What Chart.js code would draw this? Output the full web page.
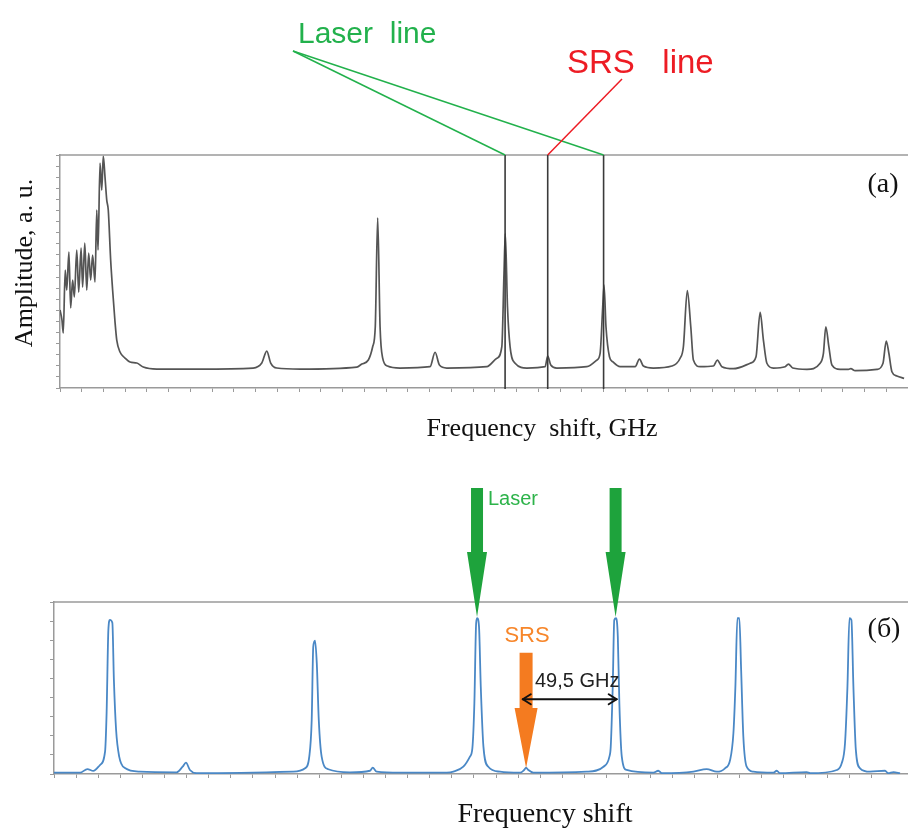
<!DOCTYPE html>
<html>
<head>
<meta charset="utf-8">
<script src="https://cdn.jsdelivr.net/npm/chart.js@4.4.0/dist/chart.umd.min.js"></script>
<style>
  html, body { margin: 0; padding: 0; background: #fff; }
  #wrap { position: relative; width: 908px; height: 830px; overflow: hidden; }
  canvas { position: absolute; left: 0; }
  #chartA { top: 0; }
  #chartB { top: 450px; }
</style>
</head>
<body>
<div id="wrap">
  <canvas id="chartA" width="908" height="450"></canvas>
  <canvas id="chartB" width="908" height="380"></canvas>
</div>
<script>
// ---- panel (a): measured spectrum, arbitrary units ----
const freqA = [0, 0.09, 0.15, 0.24, 0.31, 0.41, 0.49, 0.58, 0.66, 0.77, 0.86, 0.97, 1.04, 1.14, 1.23, 1.32, 1.41, 1.50, 1.61, 1.69,
  1.75, 1.84, 1.92, 1.99, 2.07, 2.15, 2.22, 2.33, 2.42, 2.53, 2.61, 2.76, 2.99, 3.22, 3.53, 3.83, 4.45, 6.44, 8.88, 9.28,
  9.51, 9.69, 9.97, 11.04,
  13.65, 13.88, 14.18, 14.38, 14.50, 14.61, 14.72, 14.84, 15.06, 15.64, 17.02, 17.25, 17.45, 17.79, 19.63, 20.09, 20.32, 20.42, 20.48, 20.58,
  20.70, 20.93, 21.47, 22.31, 22.43, 22.57, 22.85, 24.23, 24.69, 24.84, 24.96, 25.02, 25.11, 25.27,
  25.42, 25.76, 26.45, 26.65, 26.83, 27.29, 28.14, 28.52, 28.67, 28.85, 29.01, 29.13, 29.44, 30.05, 30.23, 30.44, 30.97, 31.74, 32.01, 32.20,
  32.35, 32.51, 32.81, 33.35, 33.50, 33.70, 34.35, 34.96, 35.11, 35.22, 35.36, 35.50, 35.88, 36.26, 36.37, 36.57, 37.57, 37.85, 38.00, 38.12,
  38.26, 38.49, 38.82];
const ampA = [7.03, 6.13, 4.95, 10.63, 8.83, 12.25, 7.21, 9.73, 8.20, 12.43, 8.65, 12.61, 9.10, 13.06, 8.83, 12.16, 9.73, 11.98, 9.55, 16.04,
  12.43, 20.27, 17.84, 20.9, 19.01, 16.94, 16.04, 11.53, 8.83, 5.95, 4.32, 3.24, 2.70, 2.34, 2.25, 1.89, 1.71, 1.71, 1.80, 2.25,
  3.33, 2.25, 1.80, 1.71,
  1.89, 2.16, 2.52, 3.72, 5.52, 15.34, 5.52, 2.70, 1.98, 1.80, 1.92, 3.22, 2.07, 1.80, 1.92, 2.68, 3.72, 10.36, 13.94, 7.32,
  3.72, 2.23, 1.80, 1.92, 2.88, 2.07, 1.80, 1.92, 2.52, 3.13, 7.32, 9.28, 5.52, 2.82,
  2.37, 1.92, 1.92, 2.61, 1.98, 1.80, 1.98, 2.68, 3.72, 8.77, 5.52, 2.52, 1.92, 1.98, 2.52, 1.92, 1.74, 2.23, 2.82, 6.82,
  4.32, 2.23, 1.80, 1.92, 2.16, 1.80, 1.68, 2.23, 3.13, 5.52, 3.72, 2.07, 1.68, 1.68, 1.74, 1.56, 1.68, 2.23, 4.23, 3.13,
  1.47, 1.08, 0.87];
const laserLinesA = [20.47, 25.0];   // marker positions, same units as freqA
const srsLinesA = [22.43];

// ---- panel (б): model spectrum ----
const freqB = [0, 1.18, 1.51, 1.78, 2.08, 2.31, 2.38, 2.46, 2.53, 2.64, 2.71, 2.81, 2.95, 3.21, 3.89, 5.55, 5.82, 5.97, 6.15, 6.46,
  10.83, 11.36, 11.55, 11.66, 11.73, 11.81, 11.89, 11.98, 12.11, 12.41, 13.39, 14.30, 14.42, 14.60, 15.66, 17.77, 18.07, 18.52, 18.82, 18.93,
  19.02, 19.10, 19.15, 19.23, 19.31, 19.43, 19.65, 20.18, 21.09, 21.27, 21.36, 21.46, 21.69, 24.10, 24.86, 25.13, 25.19, 25.28, 25.35, 25.43,
  25.51, 25.58, 25.69, 25.91, 27.12, 27.34, 27.50, 28.93, 29.53, 29.99, 30.36, 30.59, 30.74, 30.83, 30.92, 31.01, 31.09, 31.19, 31.34, 31.64,
  32.55, 32.70, 32.85, 34.06, 34.21, 35.42, 35.64, 35.79, 35.90, 35.99, 36.08, 36.17, 36.28, 36.47, 36.92, 37.60, 37.75, 37.98, 38.28];
const ampB = [0.07, 0.07, 0.26, 0.16, 0.47, 1.17, 3.19, 7.54, 8.06, 7.91, 4.92, 2.30, 0.91, 0.31, 0.12, 0.09, 0.38, 0.59, 0.21, 0.04,
  0.12, 0.30, 0.91, 2.83, 6.66, 6.98, 5.80, 2.83, 0.91, 0.25, 0.09, 0.17, 0.33, 0.12, 0.07, 0.07, 0.12, 0.38, 0.91, 1.35,
  3.70, 7.89, 8.15, 7.71, 4.57, 1.43, 0.38, 0.12, 0.07, 0.21, 0.33, 0.21, 0.07, 0.12, 0.38, 0.91, 1.43, 4.57, 8.06, 8.15,
  7.19, 3.70, 0.91, 0.21, 0.07, 0.17, 0.04, 0.12, 0.26, 0.12, 0.30, 0.73, 2.13, 4.57, 8.15, 8.15, 5.45, 1.95, 0.38, 0.12,
  0.07, 0.17, 0.04, 0.10, 0.04, 0.21, 0.56, 1.61, 4.57, 8.15, 8.06, 4.57, 1.26, 0.30, 0.12, 0.17, 0.04, 0.10, 0.04];
// arrows: [x, tail y, head start y, tip y]
const laserArrowsB = [[19.14, 14.97, 11.62, 8.22], [25.41, 14.97, 11.62, 8.22]];
const srsArrowB = [21.36, 6.35, 3.46, 0.31];
const spacingB = { from: 21.21, to: 25.46, y: 3.91, label: '49,5 GHz' };

const SERIF = '"Liberation Serif", "Times New Roman", serif';
const SANS = '"Liberation Sans", Arial, sans-serif';
const AXIS_GREY = '#9a9a9a';

function toPoints(xs, ys) {
  return xs.map((x, i) => ({ x: x, y: ys[i] }));
}

function axisOpts(min, max, isX) {
  return {
    type: 'linear',
    min: min,
    max: max,
    ticks: { display: false, stepSize: 1 },
    grid: { drawOnChartArea: false, drawTicks: true, tickLength: 4, color: AXIS_GREY, lineWidth: 1 },
    border: { display: true, color: AXIS_GREY, width: 1.5 },
    // размер оси задаём через layout.padding, поэтому обнуляем
    afterFit(scale) { if (isX) scale.height = 0; else scale.width = 0; }
  };
}

function text(ctx, str, x, y, font, color, align) {
  ctx.font = font;
  ctx.fillStyle = color;
  ctx.textAlign = align || 'left';
  ctx.textBaseline = 'alphabetic';
  ctx.fillText(str, x, y);
}

function vText(ctx, str, x, y, font, color) {
  ctx.save();
  ctx.translate(x, y);
  ctx.rotate(-Math.PI / 2);
  ctx.font = font;
  ctx.fillStyle = color;
  ctx.textAlign = 'center';
  ctx.textBaseline = 'middle';
  ctx.fillText(str, 0, 0);
  ctx.restore();
}

function line(ctx, x1, y1, x2, y2, color, w) {
  ctx.beginPath();
  ctx.moveTo(x1, y1);
  ctx.lineTo(x2, y2);
  ctx.strokeStyle = color;
  ctx.lineWidth = w;
  ctx.stroke();
}

function blockArrow(ctx, x, yTail, yHead, yTip, shaftW, headW, color) {
  ctx.beginPath();
  ctx.moveTo(x - shaftW / 2, yTail);
  ctx.lineTo(x + shaftW / 2, yTail);
  ctx.lineTo(x + shaftW / 2, yHead);
  ctx.lineTo(x + headW / 2, yHead);
  ctx.lineTo(x, yTip);
  ctx.lineTo(x - headW / 2, yHead);
  ctx.lineTo(x - shaftW / 2, yHead);
  ctx.closePath();
  ctx.fillStyle = color;
  ctx.fill();
}

const frameA = {
  id: 'frameA',
  afterDraw(chart) {
    const ctx = chart.ctx, a = chart.chartArea, xs = chart.scales.x, ys = chart.scales.y;
    ctx.save();
    line(ctx, a.left, a.top, a.right, a.top, AXIS_GREY, 1.5);
    const top = ys.getPixelForValue(ys.max), bot = ys.getPixelForValue(ys.min);
    laserLinesA.concat(srsLinesA).forEach(v => {
      const px = xs.getPixelForValue(v);
      line(ctx, px, top, px, bot + 1, '#3a3a3a', 1.6);
    });
    // подписи и выноски
    const green = '#22b14c', red = '#ed1c24';
    laserLinesA.forEach(v => line(ctx, 293, 51, xs.getPixelForValue(v), top, green, 1.5));
    srsLinesA.forEach(v => line(ctx, 622, 79, xs.getPixelForValue(v), top, red, 1.5));
    text(ctx, 'Laser  line', 298, 43, '30px ' + SANS, green);
    text(ctx, 'SRS   line', 567, 73, '33px ' + SANS, red);
    text(ctx, '(a)', 883, 192, '28px ' + SERIF, '#111', 'center');
    vText(ctx, 'Amplitude, a. u.', 25, 263, '26px ' + SERIF, '#111');
    text(ctx, 'Frequency  shift, GHz', 542, 436, '26px ' + SERIF, '#111', 'center');
    ctx.restore();
  }
};

const frameB = {
  id: 'frameB',
  afterDraw(chart) {
    const ctx = chart.ctx, a = chart.chartArea, xs = chart.scales.x, ys = chart.scales.y;
    const X = v => xs.getPixelForValue(v), Y = v => ys.getPixelForValue(v);
    ctx.save();
    line(ctx, a.left, a.top, a.right, a.top, AXIS_GREY, 1.5);
    laserArrowsB.forEach(r => blockArrow(ctx, X(r[0]), Y(r[1]), Y(r[2]), Y(r[3]), 12, 20, '#1ea33c'));
    blockArrow(ctx, X(srsArrowB[0]), Y(srsArrowB[1]), Y(srsArrowB[2]), Y(srsArrowB[3]), 13, 23, '#f47b20');
    // двойная стрелка между SRS и лазерной линией
    const x1 = X(spacingB.from), x2 = X(spacingB.to), yy = Y(spacingB.y);
    ctx.lineCap = 'round';
    ctx.lineJoin = 'round';
    line(ctx, x1, yy, x2, yy, '#111', 2);
    ctx.beginPath();
    ctx.moveTo(x1 + 8, yy - 5); ctx.lineTo(x1, yy); ctx.lineTo(x1 + 8, yy + 5);
    ctx.moveTo(x2 - 8, yy - 5); ctx.lineTo(x2, yy); ctx.lineTo(x2 - 8, yy + 5);
    ctx.stroke();
    text(ctx, 'Laser', 488, 55, '20px ' + SANS, '#2db34a');
    text(ctx, 'SRS', 527, 192, '22px ' + SANS, '#f7862a', 'center');
    text(ctx, spacingB.label, 535, 237, '20px ' + SANS, '#222');
    text(ctx, '(б)', 884, 187, '28px ' + SERIF, '#111', 'center');
    vText(ctx, 'Amplitude, a. u.', 25, 685, '27px ' + SERIF, '#111');
    text(ctx, 'Frequency shift', 545, 372, '28px ' + SERIF, '#111', 'center');
    ctx.restore();
  }
};

function makeChart(id, points, color, width, xMax, yMax, padding, plugin) {
  return new Chart(document.getElementById(id), {
    type: 'line',
    data: {
      datasets: [{
        data: points,
        borderColor: color,
        borderWidth: width,
        pointRadius: 0,
        fill: false,
        cubicInterpolationMode: 'monotone'
      }]
    },
    options: {
      responsive: false,
      animation: false,
      events: [],
      layout: { padding: padding },
      plugins: { legend: { display: false }, tooltip: { enabled: false } },
      scales: { x: axisOpts(0, xMax, true), y: axisOpts(0, yMax, false) }
    },
    plugins: [plugin]
  });
}

makeChart('chartA', toPoints(freqA, ampA), '#555555', 1.7, 39, 21,
  { left: 60, top: 155, right: 0, bottom: 62 }, frameA);
makeChart('chartB', toPoints(freqB, ampB), '#4a88c6', 1.8, 38.64, 9,
  { left: 54, top: 152, right: 0, bottom: 56 }, frameB);
</script>
</body>
</html>
